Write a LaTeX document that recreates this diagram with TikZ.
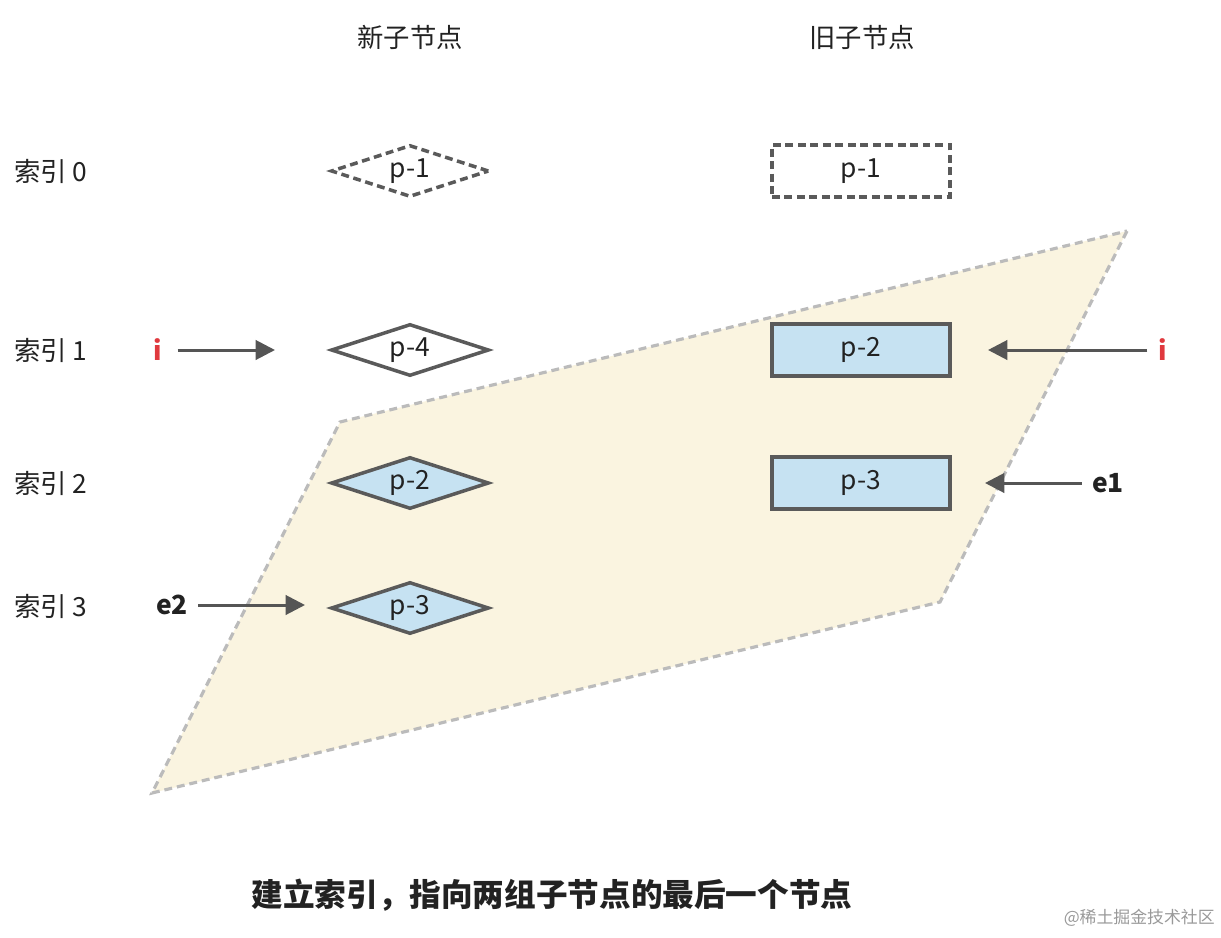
\documentclass[tikz,border=0pt]{standalone}
\usepackage{fontspec}
\setmainfont{Noto Sans CJK SC}
\usetikzlibrary{shapes.geometric,arrows.meta}
\definecolor{edgegray}{HTML}{5A5A5A}
\definecolor{arrgray}{HTML}{555555}
\definecolor{zonegray}{HTML}{BBBBBB}
\definecolor{zonefill}{HTML}{FAF4E0}
\definecolor{nodeblue}{HTML}{C6E2F2}
\definecolor{ired}{HTML}{E0393E}
\definecolor{txt}{HTML}{222222}
\tikzset{
  newnode/.style={diamond, aspect=3, draw=edgegray, line width=2pt, inner sep=0pt,
    minimum width=3.16cm, minimum height=1.04cm, font=\fontsize{15}{17}\selectfont, text=txt},
  oldnode/.style={rectangle, draw=edgegray, line width=2pt, inner sep=0pt,
    minimum width=3.56cm, minimum height=1.04cm, font=\fontsize{15}{17}\selectfont, text=txt},
  ghost/.style={dash pattern=on 4.5pt off 2.6pt},
  filled/.style={fill=nodeblue},
  lbl/.style={inner sep=0pt, font=\fontsize{15}{17}\selectfont, text=txt},
  ptr/.style={inner sep=0pt, font=\bfseries\fontsize{15}{17}\selectfont},
  arr/.style={draw=arrgray, line width=1.7pt, -{Triangle[length=11pt,width=11pt]}, color=arrgray},
}
\begin{document}
\begin{tikzpicture}[x=0.02cm,y=-0.02cm]
\useasboundingbox (0,0) rectangle (1221,937);
% highlighted zone
\coordinate (z1) at (1127,231);
\coordinate (z2) at (940,602);
\coordinate (z3) at (152,793);
\coordinate (z4) at (340,422);
\filldraw[fill=zonefill, draw=zonegray, line width=1.8pt, dash pattern=on 4.5pt off 2.8pt]
  (z1) -- (z2) -- (z3) -- (z4) -- cycle;
% headers
\node[lbl] (hnew) at (410,37) {新子节点};
\node[lbl] (hold) at (862,37) {旧子节点};
% row labels
\node[lbl, anchor=west] (r0) at (14,171) {索引 0};
\node[lbl, anchor=west] (r1) at (14,350) {索引 1};
\node[lbl, anchor=west] (r2) at (14,483) {索引 2};
\node[lbl, anchor=west] (r3) at (14,606) {索引 3};
% new children
\node[newnode, ghost] (n0) at (410,171) {p-1};
\node[newnode, fill=white] (n1) at (410,350) {p-4};
\node[newnode, filled] (n2) at (410,483) {p-2};
\node[newnode, filled] (n3) at (410,608) {p-3};
% old children
\node[oldnode, ghost] (o0) at (861,171) {p-1};
\node[oldnode, filled] (o1) at (861,350) {p-2};
\node[oldnode, filled] (o2) at (861,483) {p-3};
% pointers
\node[ptr, text=ired] (iL) at (158,350) {i};
\coordinate (iLe) at (275,350);
\draw[arr, shorten <=0.3cm] (iL.east) -- (iLe);
\node[ptr, text=ired] (iR) at (1163,350) {i};
\coordinate (iRe) at (988,350);
\draw[arr, shorten <=0.22cm] (iR.west) -- (iRe);
\node[ptr, text=txt] (e1) at (1108,483) {e1};
\coordinate (e1e) at (985,483);
\draw[arr, shorten <=0.2cm] (e1.west) -- (e1e);
\node[ptr, text=txt] (e2) at (172,605) {e2};
\coordinate (e2e) at (305,605);
\draw[arr, shorten <=0.2cm] (e2.east) -- (e2e);
% caption
\node[inner sep=0pt, font=\bfseries\fontsize{18}{20}\selectfont, text=txt] (cap) at (552,895) {建立索引，指向两组子节点的最后一个节点};
% watermark
\node[inner sep=0pt, anchor=east, font=\fontsize{9.6}{11}\selectfont, text=black!40] (wm) at (1215,918) {@稀土掘金技术社区};
\end{tikzpicture}
\end{document}
